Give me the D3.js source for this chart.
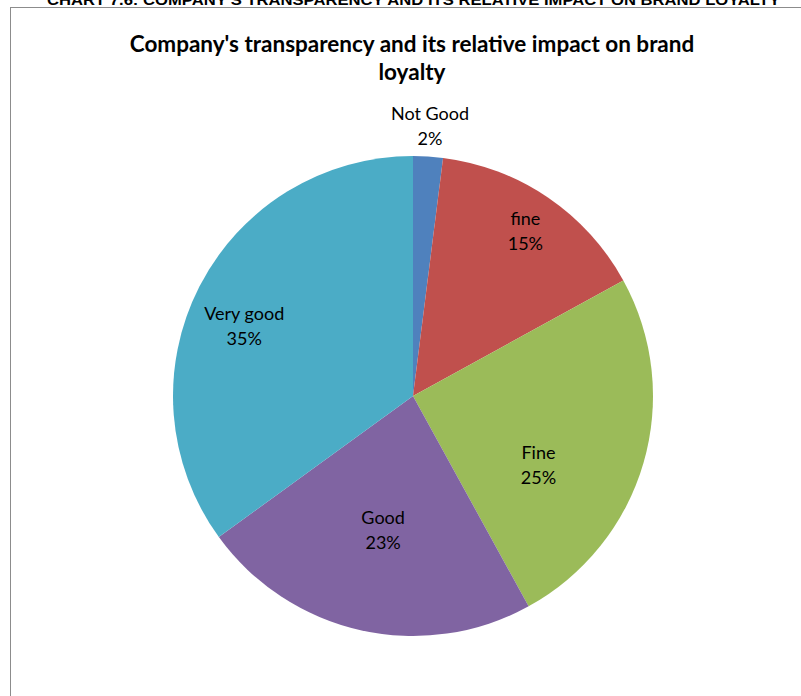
<!DOCTYPE html>
<html>
<head>
<meta charset="utf-8">
<script src="https://cdn.jsdelivr.net/npm/d3@7/dist/d3.min.js"></script>
<style>
  html, body { margin: 0; padding: 0; background: #fff; }
  svg { display: block; }
</style>
</head>
<body>
<svg id="chart" width="801" height="696"></svg>
<script>
// Survey responses: share of respondents per rating (percent)
const categories = ["Not Good", "fine", "Fine", "Good", "Very good"];
const shares = [2, 15, 25, 23, 35];
const sliceColors = ["#4F81BD", "#C0504D", "#9BBB59", "#8064A2", "#4BACC6"];

const headerText = "CHART 7.6: COMPANY'S TRANSPARENCY AND ITS RELATIVE IMPACT ON BRAND LOYALTY";
const titleLines = ["Company's transparency and its relative impact on brand", "loyalty"];

// Label placement: radius as a fraction of the pie radius, plus an angular shift (degrees)
const labelLayout = {
  "Not Good":  { r: 1.13, shift: 0 },
  "fine":      { r: 0.833, shift: 0 },
  "Fine":      { r: 0.596, shift: 12.5 },
  "Good":      { r: 0.571, shift: 0 },
  "Very good": { r: 0.763, shift: -4.2 }
};

const svg = d3.select("#chart");
const W = 801, H = 696;
const cx = 413, cy = 396, R = 240;

// Page header (partly above the visible area)
svg.append("text")
  .attr("x", 47).attr("y", 5)
  .attr("font-family", "Liberation Sans, Arial, sans-serif")
  .attr("font-weight", "bold")
  .attr("font-size", 14)
  .attr("textLength", 733)
  .attr("lengthAdjust", "spacingAndGlyphs")
  .attr("fill", "#000")
  .text(headerText);

// Chart frame
svg.append("rect")
  .attr("x", 10.5).attr("y", 7.5)
  .attr("width", W + 20).attr("height", H + 20)
  .attr("fill", "#fff")
  .attr("stroke", "#8c8c8c")
  .attr("stroke-width", 1);

// Title
const title = svg.append("text")
  .attr("text-anchor", "middle")
  .attr("font-family", "Lato, 'Open Sans', sans-serif")
  .attr("font-weight", "bold")
  .attr("font-size", 22.5)
  .attr("fill", "#000");
titleLines.forEach((line, i) => {
  title.append("tspan")
    .attr("x", 412)
    .attr("y", 52 + i * 28)
    .text(line);
});

const records = categories.map((c, i) => ({ name: c, value: shares[i], color: sliceColors[i] }));

const pie = d3.pie()
  .value(d => d.value)
  .sort(null)
  .startAngle(0)
  .endAngle(2 * Math.PI);

const arc = d3.arc().innerRadius(0).outerRadius(R);

const g = svg.append("g").attr("transform", `translate(${cx},${cy})`);

const arcs = pie(records);

g.selectAll("path.slice")
  .data(arcs)
  .join("path")
  .attr("class", "slice")
  .attr("d", arc)
  .attr("fill", d => d.data.color)
  .attr("stroke", "none");

// Data labels: category name and percentage
const labels = g.selectAll("g.label")
  .data(arcs)
  .join("g")
  .attr("class", "label")
  .attr("transform", d => {
    const lay = labelLayout[d.data.name];
    const a = (d.startAngle + d.endAngle) / 2 + lay.shift * Math.PI / 180;
    const r = lay.r * R;
    return `translate(${r * Math.sin(a)},${-r * Math.cos(a)})`;
  });

labels.append("text")
  .attr("text-anchor", "middle")
  .attr("font-family", "Lato, 'Open Sans', sans-serif")
  .attr("font-size", 18)
  .attr("fill", "#000")
  .attr("y", -12.5)
  .attr("dominant-baseline", "central")
  .text(d => d.data.name);

labels.append("text")
  .attr("text-anchor", "middle")
  .attr("font-family", "Lato, 'Open Sans', sans-serif")
  .attr("font-size", 18)
  .attr("fill", "#000")
  .attr("y", 12.5)
  .attr("dominant-baseline", "central")
  .text(d => d3.format(".0%")(d.data.value / 100));
</script>
</body>
</html>
